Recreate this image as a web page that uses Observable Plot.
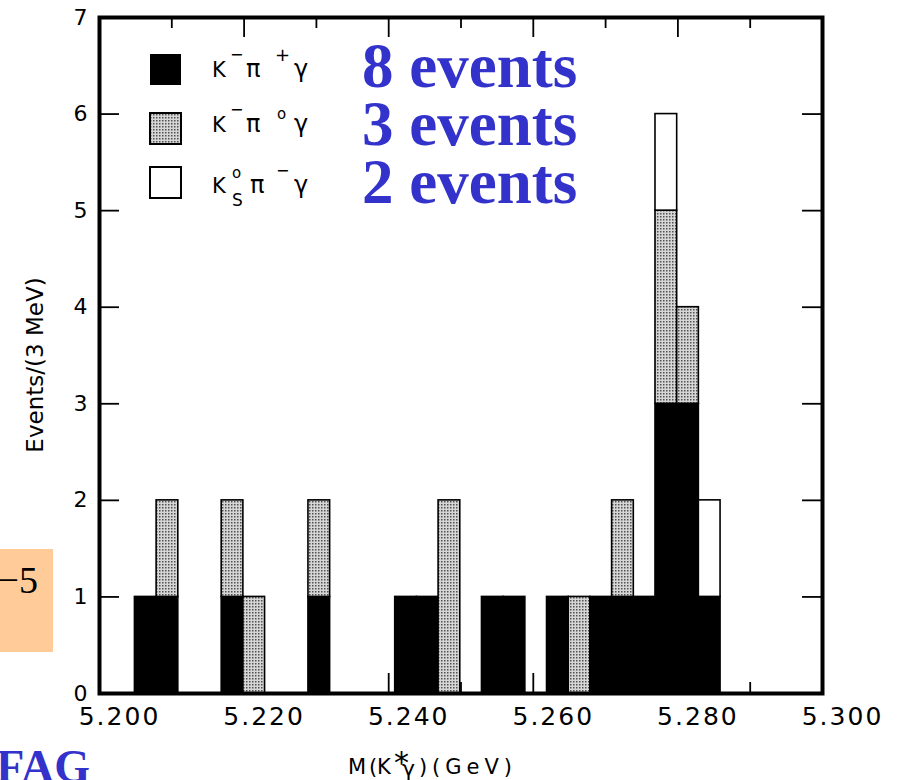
<!DOCTYPE html>
<html><head><meta charset="utf-8">
<script src="https://cdn.jsdelivr.net/npm/d3@7"></script>
<script src="https://cdn.jsdelivr.net/npm/@observablehq/plot@0.6"></script>
<style>html,body{margin:0;padding:0;background:#fff;overflow:hidden}</style>
</head><body><div id="chart"></div>
<script>
// Histogram bins (lower edge, GeV) and counts per channel
const binLo = [5.2049,5.2079,5.2169,5.2199,5.2289,5.2409,5.2439,5.2469,5.2529,5.2559,5.2619,5.2649,5.2679,5.2709,5.2739,5.2769,5.2799,5.2829];
const kMinusPiPlus  = [1,1,1,0,1,1,1,0,1,1,1,0,1,1,1,3,3,1];
const kMinusPiZero  = [0,1,1,1,1,0,0,2,0,0,0,1,0,1,0,2,1,0];
const kShortPiMinus = [0,0,0,0,0,0,0,0,0,0,0,0,0,0,0,1,0,1];
const channels = ["K−π+γ", "K−π0γ", "KSπ−γ"];
const eventCounts = ["8 events", "3 events", "2 events"];
const xTickValues = [5.20, 5.22, 5.24, 5.26, 5.28, 5.30];
const xMajor = [5.22, 5.24, 5.26, 5.28];
const xMinor = [5.21, 5.23, 5.25, 5.27, 5.29];
const yTickValues = [0, 1, 2, 3, 4, 5, 6, 7];
const binWidth = 0.003;
const yTitle = "Events/(3 MeV)";

const W = 899, H = 780, mt = 17, mb = 87, ml = 99, mr = 77;
const innerW = W - ml - mr, innerH = H - mt - mb;

const series = [kMinusPiPlus, kMinusPiZero, kShortPiMinus];
const rows = [];
binLo.forEach((x, i) => {
  series.forEach((arr, s) => {
    if (arr[i] > 0) rows.push({x1: x, x2: x + binWidth, n: arr[i], ch: channels[s]});
  });
});

const plot = Plot.plot({
  width: W, height: H,
  marginTop: mt, marginBottom: mb, marginLeft: ml, marginRight: mr,
  style: {fontFamily: "DejaVu Sans, sans-serif", color: "black", background: "white"},
  x: {domain: [5.2, 5.3], axis: null},
  y: {domain: [0, 7], axis: null},
  color: {domain: channels, range: ["black", "url(#stip)", "white"]},
  marks: [
    Plot.ruleX(xMajor, {x: d => d, insetTop: innerH - 20, stroke: "black", strokeWidth: 1.8}),
    Plot.ruleX(xMinor, {x: d => d, insetTop: innerH - 11, stroke: "black", strokeWidth: 1.8}),
    Plot.ruleX(xMajor, {x: d => d, insetBottom: innerH - 20, stroke: "black", strokeWidth: 1.8}),
    Plot.ruleX(xMinor, {x: d => d, insetBottom: innerH - 11, stroke: "black", strokeWidth: 1.8}),
    Plot.ruleY(yTickValues.slice(1, -1), {y: d => d, insetRight: innerW - 20, stroke: "black", strokeWidth: 1.8}),
    Plot.ruleY(yTickValues.slice(1, -1), {y: d => d, insetLeft: innerW - 20, stroke: "black", strokeWidth: 1.8}),
    Plot.rectY(rows, {x1: "x1", x2: "x2", y: "n", fill: "ch", stroke: "black", strokeWidth: 1.6}),
    Plot.frame({stroke: "black", strokeWidth: 4}),
    Plot.axisX(xTickValues, {tickSize: 0, tickPadding: 14, tickFormat: d3.format(".3f"), fontSize: 25, dx: 20, label: null}),
    Plot.axisY(yTickValues, {tickSize: 0, tickPadding: 12, tickFormat: d3.format("d"), fontSize: 22, label: null})
  ]
});
document.getElementById("chart").appendChild(plot);

const svg = d3.select(plot);
svg.selectAll('[aria-label="x-axis tick label"] text').attr("letter-spacing", "2px");

// stipple pattern
const defs = svg.insert("defs", ":first-child");
const pat = defs.append("pattern").attr("id", "stip").attr("width", 3).attr("height", 3).attr("patternUnits", "userSpaceOnUse");
pat.append("rect").attr("width", 3).attr("height", 3).attr("fill", "#d6d6d6");
pat.append("rect").attr("width", 1.5).attr("height", 1.5).attr("fill", "#505050");

const SANS = "DejaVu Sans, sans-serif";
const SERIF = "Liberation Serif, Times New Roman, serif";
function txt(x, y, s, size, extra = {}) {
  const t = svg.append("text").attr("x", x).attr("y", y).attr("font-size", size)
    .attr("font-family", extra.family || SANS).attr("fill", extra.fill || "black")
    .attr("text-anchor", extra.anchor || "start").text(s);
  if (extra.weight) t.attr("font-weight", extra.weight);
  if (extra.ls) t.attr("letter-spacing", extra.ls);
  return t;
}

// legend squares
const sq = [["black", "none"], ["url(#stip)", "black"], ["white", "black"]];
const sqY = [54, 113, 167];
sq.forEach(([f, s], i) => {
  svg.append("rect").attr("x", 150).attr("y", sqY[i]).attr("width", 31).attr("height", 31)
    .attr("fill", f).attr("stroke", s === "none" ? "none" : s).attr("stroke-width", 2);
});
// legend labels
txt(212, 77, "K", 21); txt(230, 60, "−", 16); txt(246, 77, "π", 24); txt(275, 61, "+", 18); txt(294, 77, "γ", 24);
txt(212, 132, "K", 21); txt(230, 115, "−", 16); txt(246, 132, "π", 24); txt(277, 119, "o", 15); txt(294, 132, "γ", 24);
txt(212, 193, "K", 21); txt(232, 178, "o", 15); txt(232, 206, "S", 17); txt(250, 193, "π", 24); txt(276, 176, "−", 16); txt(294, 193, "γ", 24);

// blue annotations
const evY = [87, 145, 203];
eventCounts.forEach((s, i) => txt(362, evY[i], s, 63, {family: SERIF, weight: "bold", fill: "#3333cc"}));

// axis titles
svg.append("text").attr("transform", "translate(43,365) rotate(-90)").attr("text-anchor", "middle")
  .attr("font-family", SANS).attr("font-size", 23).text(yTitle);
txt(348, 774, "M", 21); txt(369, 774, "(", 21); txt(377, 774, "K", 21);
txt(394, 773, "*", 30); txt(402, 776, "γ", 22); txt(419, 774, ")", 21);
txt(432, 774, "(GeV)", 21, {ls: "5px"});

// slide fragments at left edge
svg.append("rect").attr("x", 0).attr("y", 549).attr("width", 53).attr("height", 103).attr("fill", "#ffcc99");
txt(38, 593, "−5", 38, {family: SERIF, anchor: "end"});
txt(90, 782, "FAG", 46, {family: SERIF, weight: "bold", fill: "#3333cc", anchor: "end"});
</script>
</body></html>
